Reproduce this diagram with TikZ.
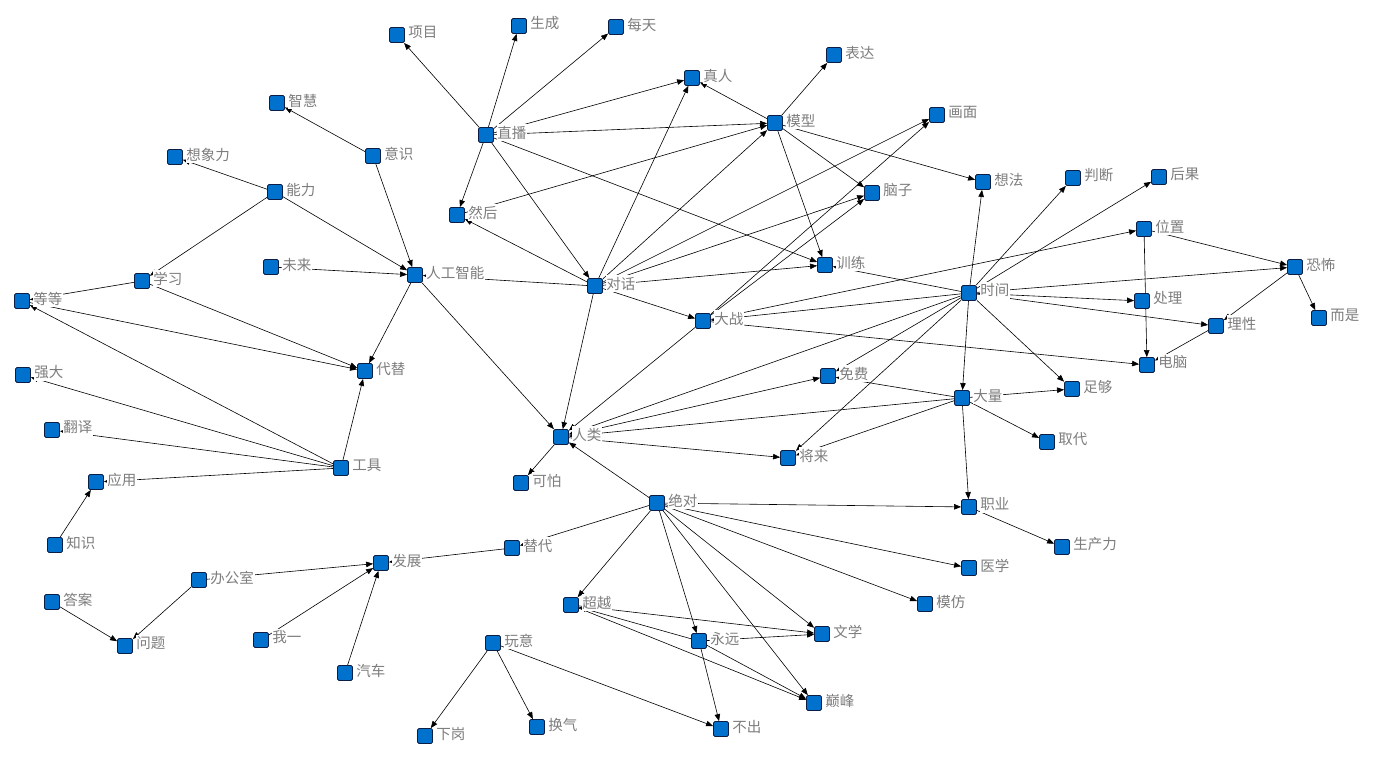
\documentclass[tikz,border=0pt]{standalone}
\usepackage{fontspec}
\newfontfamily\cjk{Noto Sans CJK SC}
\usetikzlibrary{arrows.meta}
\pgfdeclarelayer{bg}
\pgfsetlayers{bg,main}
\definecolor{nodeblue}{RGB}{0,114,206}
\definecolor{nodeedge}{RGB}{10,30,70}
\definecolor{lblgray}{RGB}{125,125,125}
\tikzset{
  sq/.style={draw=nodeedge, fill=nodeblue, minimum size=15pt, inner sep=0pt, rounded corners=1.5pt, line width=0.8pt},
  lbl/.style={anchor=west, fill=white, inner xsep=0.8pt, inner ysep=2pt, text=lblgray, font=\cjk\fontsize{14.5pt}{15pt}\selectfont},
  edge/.style={-{Triangle[length=7pt,width=5.5pt]}, line width=0.6pt, black},
}
\newcommand\nd[4]{\node[sq] (#1) at (#2,#3) {}; \node[lbl] (#1-l) at ([xshift=2.5pt,yshift=2.5pt]#1.east) {#4};}
\newcommand\ed[2]{\draw[edge] (#1) -- (#2);}
\begin{document}
\begin{tikzpicture}[x=1pt,y=-1pt]
\useasboundingbox (0,0) rectangle (1388,756);
\nd{xiangmu}{397}{35}{项目}
\nd{shengcheng}{519}{26}{生成}
\nd{meitian}{616}{27}{每天}
\nd{zhenren}{692}{78}{真人}
\nd{biaoda}{834}{55}{表达}
\nd{moxing}{775}{123}{模型}
\nd{huamian}{937}{115}{画面}
\nd{zhihui}{277}{103}{智慧}
\nd{yishi}{373}{156}{意识}
\nd{xiangxiang}{175}{157}{想象力}
\nd{nengli}{275}{192}{能力}
\nd{zhibo}{486}{135}{直播}
\nd{ranhou}{457}{215}{然后}
\nd{naozi}{872}{193}{脑子}
\nd{xiangfa}{983}{182}{想法}
\nd{panduan}{1073}{178}{判断}
\nd{houguo}{1159}{177}{后果}
\nd{weizhi}{1144}{229}{位置}
\nd{kongbu}{1295}{267}{恐怖}
\nd{ershi}{1319}{318}{而是}
\nd{chuli}{1142}{301}{处理}
\nd{lixing}{1216}{326}{理性}
\nd{diannao}{1147}{365}{电脑}
\nd{shijian}{969}{293}{时间}
\nd{xunlian}{825}{265}{训练}
\nd{dazhan}{703}{321}{大战}
\nd{duihua}{595}{286}{对话}
\nd{ai}{415}{275}{人工智能}
\nd{weilai}{271}{267}{未来}
\nd{xuexi}{142}{281}{学习}
\nd{dengdeng}{22}{301}{等等}
\nd{daiti}{365}{371}{代替}
\nd{qiangda}{23}{375}{强大}
\nd{fanyi}{52}{430}{翻译}
\nd{gongju}{341}{468}{工具}
\nd{yingyong}{96}{482}{应用}
\nd{zhishi}{55}{545}{知识}
\nd{mianfei}{828}{376}{免费}
\nd{daliang}{962}{398}{大量}
\nd{zugou}{1072}{389}{足够}
\nd{qudai}{1047}{442}{取代}
\nd{renlei}{561}{437}{人类}
\nd{kepa}{521}{483}{可怕}
\nd{jianglai}{788}{458}{将来}
\nd{juedui}{657}{503}{绝对}
\nd{zhiye}{969}{507}{职业}
\nd{shengchanli}{1062}{547}{生产力}
\nd{yixue}{969}{568}{医学}
\nd{mofang}{925}{604}{模仿}
\nd{tidai}{512}{548}{替代}
\nd{fazhan}{381}{563}{发展}
\nd{bangongshi}{199}{580}{办公室}
\nd{daan}{52}{602}{答案}
\nd{wenti}{125}{646}{问题}
\nd{woyi}{261}{640}{我一}
\nd{qiche}{345}{673}{汽车}
\nd{chaoyue}{571}{605}{超越}
\nd{yongyuan}{699}{641}{永远}
\nd{wenxue}{822}{634}{文学}
\nd{wanyi}{493}{643}{玩意}
\nd{dianfeng}{814}{703}{巅峰}
\nd{xiagang}{425}{736}{下岗}
\nd{huanqi}{537}{727}{换气}
\nd{buchu}{721}{729}{不出}
\begin{pgfonlayer}{bg}
\fill[white] (0,0) rectangle (1388,756);
\ed{zhibo}{xiangmu}\ed{zhibo}{shengcheng}\ed{zhibo}{meitian}\ed{zhibo}{zhenren}
\ed{zhibo}{moxing}\ed{zhibo}{ranhou}\ed{zhibo}{duihua}\ed{zhibo}{xunlian}
\ed{ranhou}{moxing}
\ed{duihua}{ranhou}\ed{duihua}{zhenren}\ed{duihua}{moxing}\ed{duihua}{huamian}
\ed{duihua}{naozi}\ed{duihua}{xunlian}\ed{duihua}{dazhan}\ed{duihua}{renlei}\ed{duihua}{ai}
\ed{moxing}{zhenren}\ed{moxing}{biaoda}\ed{moxing}{naozi}\ed{moxing}{xiangfa}\ed{moxing}{xunlian}
\ed{yishi}{zhihui}\ed{yishi}{ai}
\ed{nengli}{xiangxiang}\ed{nengli}{ai}\ed{nengli}{xuexi}
\ed{weilai}{ai}
\ed{xuexi}{dengdeng}\ed{xuexi}{daiti}
\ed{dengdeng}{daiti}
\ed{gongju}{dengdeng}\ed{gongju}{qiangda}\ed{gongju}{fanyi}\ed{gongju}{yingyong}\ed{gongju}{daiti}
\ed{zhishi}{yingyong}
\ed{ai}{daiti}\ed{ai}{renlei}
\ed{dazhan}{huamian}\ed{dazhan}{naozi}\ed{dazhan}{weizhi}\ed{shijian}{dazhan}\ed{dazhan}{diannao}\ed{dazhan}{renlei}
\ed{shijian}{xunlian}\ed{shijian}{xiangfa}\ed{shijian}{panduan}\ed{shijian}{houguo}\ed{shijian}{kongbu}
\ed{shijian}{chuli}\ed{shijian}{lixing}\ed{shijian}{zugou}\ed{shijian}{daliang}\ed{shijian}{renlei}
\ed{shijian}{mianfei}\ed{shijian}{jianglai}
\ed{weizhi}{kongbu}\ed{weizhi}{diannao}
\ed{kongbu}{ershi}\ed{kongbu}{lixing}
\ed{lixing}{diannao}
\ed{renlei}{mianfei}\ed{renlei}{jianglai}\ed{renlei}{kepa}
\ed{daliang}{mianfei}\ed{daliang}{jianglai}\ed{daliang}{renlei}\ed{daliang}{zugou}\ed{daliang}{qudai}\ed{daliang}{zhiye}
\ed{juedui}{renlei}\ed{juedui}{zhiye}\ed{juedui}{yixue}\ed{juedui}{mofang}\ed{juedui}{wenxue}
\ed{juedui}{dianfeng}\ed{juedui}{yongyuan}\ed{juedui}{chaoyue}\ed{juedui}{tidai}
\ed{zhiye}{shengchanli}
\ed{chaoyue}{wenxue}\ed{chaoyue}{dianfeng}
\ed{yongyuan}{chaoyue}\ed{yongyuan}{dianfeng}\ed{yongyuan}{wenxue}\ed{yongyuan}{buchu}
\ed{wanyi}{xiagang}\ed{wanyi}{huanqi}\ed{wanyi}{buchu}
\ed{tidai}{fazhan}\ed{bangongshi}{fazhan}\ed{woyi}{fazhan}\ed{qiche}{fazhan}
\ed{bangongshi}{wenti}\ed{daan}{wenti}
\end{pgfonlayer}
\end{tikzpicture}
\end{document}
